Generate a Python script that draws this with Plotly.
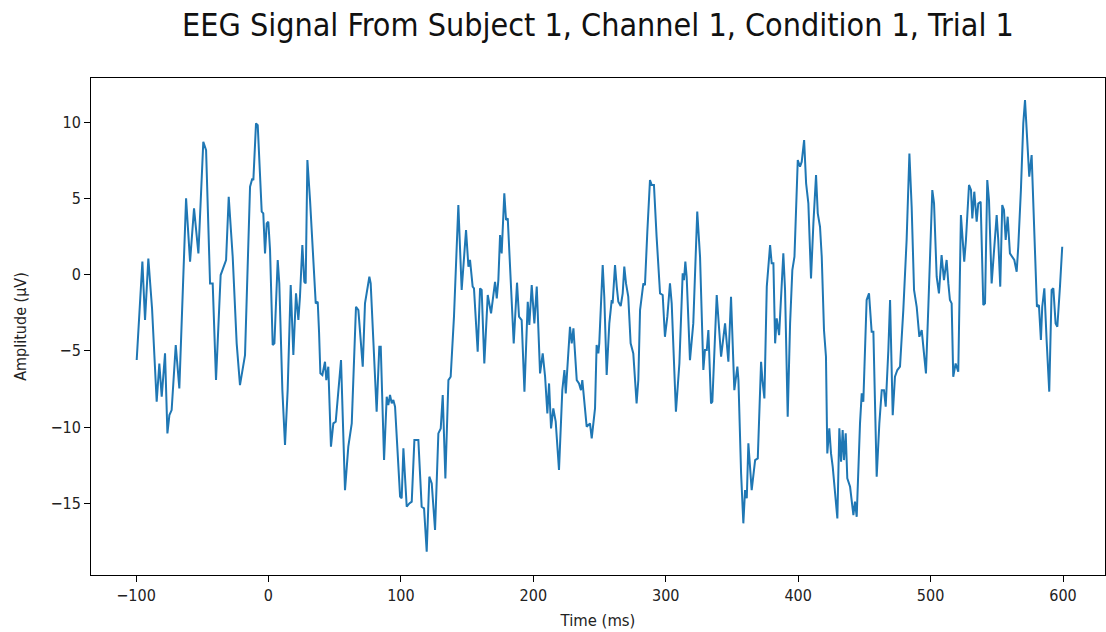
import plotly.graph_objects as go

# Time (ms) and amplitude (µV)
time_ms = [
    -99.5, -95.2, -93.2, -90.7, -87.9, -84.4, -82.4, -80.6, -78.1, -76.3, -74.8, -73.1, -70.0, -67.3,
    -62.2, -59.2, -56.2, -52.9, -49.2, -47.1, -44.1, -42.1, -39.6, -36.1, -32.0, -30.0, -27.0, -24.0,
    -21.5, -17.7,
    -13.9, -12.2, -11.4, -9.4, -8.1, -7.1, -5.1, -3.9, -2.6, -1.3, -0.1, 1.2, 3.2, 4.5, 7.0, 8.2, 10.5,
    12.5, 14.5, 16.8, 18.8, 20.8, 22.6, 23.8, 25.6, 27.1, 28.1, 29.4, 31.4, 35.7, 37.2, 38.2, 39.2, 40.7,
    42.7, 43.7, 45.2, 47.2, 49.0, 50.8, 54.8, 57.8, 60.3, 62.9, 66.1, 67.9,
    71.2, 72.9, 76.2, 77.2, 79.2, 80.5, 81.7, 83.7, 84.8, 87.3, 89.3, 90.5, 91.8, 93.1, 94.3, 95.6, 99.4,
    100.6, 101.9, 104.4, 106.4, 108.2, 110.2, 113.2, 115.7, 117.5, 119.5, 121.5, 123.3, 125.8, 128.3,
    130.1, 131.6, 133.6, 135.9, 137.6, 140.1, 143.4, 145.9, 149.2, 151.0, 152.2, 154.2, 155.2, 158.0,
    159.8, 161.0, 163.0, 165.6, 168.1, 169.8, 171.1, 172.4, 173.6, 174.9, 176.1, 178.1, 179.4, 180.7,
    182.4, 185.2, 187.7, 189.2, 191.2, 193.3, 195.8, 197.0, 198.8, 200.8, 202.6, 205.1, 207.1, 208.9,
    210.6, 211.9, 213.4, 215.1, 216.9, 219.4, 221.9, 223.5, 224.5, 227.7, 229.0, 230.3, 232.8, 234.5,
    236.0, 237.0, 240.3, 242.8, 244.1,
    246.6, 247.8, 249.1, 249.8, 252.4, 253.6, 255.4, 257.4, 259.2, 259.9, 261.7, 263.0, 264.2, 266.0,
    267.5, 268.7, 270.0, 271.7, 273.5, 275.5, 278.0, 279.3, 280.6, 283.1, 284.3, 286.1, 288.1, 289.4,
    291.1, 293.1, 295.7, 297.7, 299.4, 301.2, 303.2, 304.5, 307.7, 310.3, 312.8, 313.8, 314.8, 315.8,
    318.3, 320.8, 323.8, 325.9, 328.4, 329.6,
    331.0, 332.2, 334.2, 335.2, 338.5, 341.8, 344.8, 347.3, 349.3, 351.8, 354.1, 354.9, 356.9, 358.6,
    359.9, 361.2, 362.4, 364.9, 367.5, 369.5, 372.0, 373.0, 374.5, 376.3, 378.8, 380.0, 381.3, 382.6,
    383.8, 385.6, 388.8, 390.1, 392.1, 393.9, 395.6, 397.2, 399.7, 401.4, 402.7, 404.5, 406.0, 407.7,
    409.7, 411.5, 413.5, 414.8, 416.5,
    417.8, 419.5, 421.0, 422.0, 423.5, 424.8, 426.1, 427.8, 429.6, 431.1, 432.4, 433.6, 434.6, 435.9,
    437.1, 439.2, 441.7, 442.9, 444.2, 446.7, 448.0, 449.2, 451.7, 453.5, 455.5, 456.8, 459.3, 461.3,
    463.1, 464.8, 466.1, 468.1, 469.4, 471.4, 473.1, 474.9, 476.9, 479.4, 481.9, 484.0, 485.7, 487.5,
    489.5, 491.5, 493.3, 495.0, 496.5, 498.3, 501.3, 502.6, 504.6,
    506.3, 508.3, 510.1, 512.1, 513.4, 514.6, 515.9, 517.1, 518.9, 520.9, 522.9, 524.2, 525.4, 526.7,
    529.0, 530.5, 531.5, 533.0, 534.8, 536.0, 537.8, 539.8, 541.1, 542.8, 544.1, 546.1, 548.1, 549.9,
    551.1, 552.6, 554.1, 555.4, 556.7, 558.2, 559.9, 561.7, 563.2, 565.0, 566.2, 568.2, 570.0, 571.3,
    573.3, 574.5, 576.3, 577.0, 578.8, 580.3, 581.8, 583.3, 584.3, 585.9, 587.6, 589.6, 591.4, 592.7,
    594.4, 595.7, 597.7, 599.4,
]

amplitude_uv = [
    -5.6, 0.85, -2.98, 1.06, -2.22, -8.34, -5.83, -8.01, -5.17, -10.42, -9.22, -8.89, -4.62, -7.47,
    5.0, 0.85, 4.35, 1.39, 8.72, 8.17, -0.58, -0.58, -6.92, -0.03, 0.96, 5.11, 1.17, -4.51,
    -7.25, -5.28,
    5.77, 6.31, 6.20, 9.92, 9.81, 7.74, 4.13, 4.02, 1.39, 3.36, 3.47, 1.61, -4.62, -4.51, 0.96, -0.58, -7.58,
    -11.18, -7.58, -0.69, -5.28, -1.23, -2.98, -1.45, 1.94, -0.47, -0.58, 7.52, 4.89, -1.89, -1.78, -3.75, -6.48, -6.59,
    -5.72, -6.92, -6.04, -11.29, -9.76, -9.65, -5.61, -14.14, -11.29, -9.76, -2.11, -2.33,
    -6.04, -1.89, -0.14, -0.58, -4.29, -7.14, -9.00, -4.73, -4.73, -12.17, -8.01, -8.56, -7.90, -8.45, -8.23, -8.67, -14.57,
    -14.68, -11.40, -15.23, -15.01, -14.90, -10.86, -10.86, -15.23, -15.34, -18.18, -13.26, -13.70, -16.76, -10.42,
    -10.09, -7.90, -13.37, -6.92, -6.70, -2.76, 4.56, -1.01, 2.92, 0.52, 0.96, -0.79, -0.90, -5.06,
    -0.90, -1.01, -5.83, -1.34, -2.54, -1.45, -0.47, -1.56, -0.36, 2.60, 1.39, 5.33, 3.58, 3.69,
    0.52, -4.51, -0.53, -2.76, -2.98, -7.68, -1.78, -3.31, -0.69, -3.20, -0.79, -6.48, -5.17, -6.70,
    -9.11, -7.14, -10.09, -8.78, -9.65, -12.82, -7.58, -6.26, -7.79, -3.42, -4.51, -3.53, -6.92, -7.14,
    -7.58, -6.92, -9.98, -9.76, -10.75,
    -8.78, -4.62, -5.17, -4.51, 0.63, -1.45, -6.59, -3.20, -1.67, -1.89, 0.63, -0.79, -1.78, -2.06,
    -1.23, 0.52, -0.58, -1.45, -4.51, -5.17, -8.45, -6.92, -2.33, -0.58, -0.69, 2.81, 6.20, 5.88,
    5.88, 2.49, -1.23, -1.34, -4.08, -2.76, -0.58, -1.89, -9.00, -5.83, 0.08, -0.36, 0.85, -0.14,
    -5.61, -3.20, 4.13, 1.17, -6.26, -4.95,
    -4.95, -3.64, -8.45, -8.34, -1.34, -5.39, -3.20, -5.72, -1.45, -7.58, -6.04, -6.92, -13.04, -16.32,
    -14.14, -14.68, -11.07, -14.14, -12.17, -12.06, -5.72, -6.92, -8.12, -0.79, 1.94, 0.74, 0.74, -4.51,
    -2.87, -3.97, 1.39, -1.01, -9.32, -3.20, 0.30, 1.17, 7.52, 7.08, 7.41, 8.83, 5.99, 4.67,
    -0.25, 3.36, 6.53, 4.02, 3.14,
    1.17, -3.64, -5.39, -11.73, -10.09, -11.73, -12.61, -14.14, -16.00, -10.09, -12.28, -10.20, -12.17, -10.42,
    -13.37, -13.92, -15.78, -14.90, -15.89, -9.76, -7.79, -8.34, -1.67, -1.23, -3.75, -3.75, -13.26, -9.76,
    -7.58, -7.58, -8.67, -4.95, -1.67, -9.22, -6.70, -6.26, -6.04, -2.33, 2.27, 7.95, 4.45, -1.01,
    -2.11, -4.08, -3.64, -5.17, -6.48, -2.11, 5.55, 4.67, -0.14,
    -1.23, 1.28, -0.36, 0.96, -0.58, -1.67, -1.89, -6.70, -5.83, -6.37, 3.91, 2.05, 0.85, 2.27,
    5.88, 5.55, 3.69, 5.44, 3.47, 4.67, 4.78, -2.00, -1.89, 6.20, 4.89, -0.58, 2.05, 3.91,
    2.27, -0.79, 4.56, 4.24, 2.27, 3.80, 1.39, 1.17, 0.96, 0.19, 1.83, 5.55, 9.92, 11.45,
    8.39, 6.42, 7.84, 6.31, 2.27, -2.11, -2.00, -4.29, -2.11, -0.90, -4.29, -7.68, -1.01, -0.90,
    -3.20, -3.42, -0.79, 1.83,
]

x_ticks = [-100, 0, 100, 200, 300, 400, 500, 600]
y_ticks = [-15, -10, -5, 0, 5, 10]

title_text = "EEG Signal From Subject 1, Channel 1, Condition 1, Trial 1"
x_label = "Time (ms)"
y_label = "Amplitude (µV)"

fig = go.Figure()
fig.add_trace(go.Scatter(
    x=time_ms, y=amplitude_uv, mode="lines",
    line=dict(color="#1f77b4", width=2), showlegend=False, hoverinfo="x+y",
))

font_family = "DejaVu Sans Condensed, DejaVu Sans, sans-serif"
axis_common = dict(
    showgrid=False, zeroline=False, showline=True, linecolor="#000000", linewidth=1,
    mirror=True, ticks="outside", ticklen=6, tickwidth=1, tickcolor="#000000",
    tickfont=dict(family=font_family, size=16, color="#222222"),
)

fig.update_layout(
    width=1106, height=632,
    margin=dict(l=91, r=1, t=78, b=57),
    paper_bgcolor="#ffffff", plot_bgcolor="#ffffff",
    font=dict(family=font_family, color="#000000"),
    title=dict(text=title_text, x=0.5, xref="paper", xanchor="center", y=1 - 25 / 632, yanchor="middle",
               yref="container", font=dict(family=font_family, size=32, color="#111111")),
    xaxis=dict(range=[-134.0, 631.7], tickvals=x_ticks,
               title=dict(text=x_label, standoff=10, font=dict(family=font_family, size=16.5, color="#222222")),
               **axis_common),
    yaxis=dict(range=[-19.71, 12.9], tickvals=y_ticks,
               title=dict(text=y_label, standoff=19, font=dict(family=font_family, size=16, color="#222222")),
               **axis_common),
)

fig.write_html("out.html")
